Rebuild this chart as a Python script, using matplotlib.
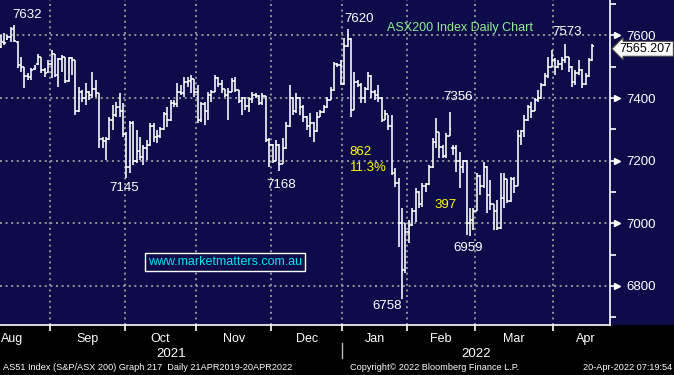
import matplotlib
matplotlib.use("Agg")
import matplotlib.pyplot as plt
from matplotlib.transforms import blended_transform_factory
from matplotlib.patches import Rectangle
import numpy as np

plt.rcParams['font.family'] = ['Liberation Sans', 'DejaVu Sans']

# ---------------- data ----------------
month_names = ['Aug', 'Sep', 'Oct', 'Nov', 'Dec', 'Jan', 'Feb', 'Mar', 'Apr']
month_sessions = [22, 22, 21, 22, 21, 19, 20, 23, 19]   # trading sessions per month
hidden_aug_sessions = 7                                   # Aug sessions before the chart starts
year_labels = ['2021', '2022']
y_ticks = [6800, 7000, 7200, 7400, 7600]
y_minor = [6700, 6900, 7100, 7300, 7500, 7700]

opens = [
    # Aug
    7562, 7580, 7588, 7596, 7622, 7580, 7505, 7498, 7470, 7466, 7492, 7508, 7530, 7488, 7482,
    # Sep
    7510, 7540, 7475, 7525, 7530, 7455, 7528, 7520, 7360, 7420, 7400, 7420, 7410, 7430, 7415,
    7270, 7262, 7270, 7330, 7345, 7370, 7360,
    # Oct
    7285, 7180, 7320, 7200, 7230, 7210, 7240, 7250, 7310, 7275, 7280, 7300, 7350, 7330, 7385,
    7380, 7420, 7415, 7450, 7455, 7460,
    # Nov
    7420, 7330, 7380, 7360, 7410, 7420, 7465, 7445, 7428, 7410, 7420, 7455, 7425, 7390, 7400,
    7375, 7398, 7410, 7405, 7385, 7405, 7265,
    # Dec
    7250, 7200, 7250, 7190, 7240, 7310, 7400, 7360, 7400, 7370, 7340, 7310, 7320, 7295, 7340,
    7355, 7370, 7395, 7425, 7510, 7505,
    # Jan
    7444, 7565, 7589, 7362, 7450, 7440, 7400, 7430, 7470, 7420, 7410, 7400, 7330, 7350, 7310,
    7160, 7130, 7000, 6850,
    # Feb
    6971, 6995, 7040, 7100, 7060, 7120, 7125, 7180, 7260, 7290, 7245, 7215, 7280, 7240, 7240,
    7200, 7180, 7200, 7000, 7010,
    # Mar
    7040, 7150, 7120, 7180, 7090, 7060, 7040, 6985, 7080, 7140, 7070, 7140, 7120, 7280, 7295,
    7330, 7370, 7360, 7395, 7400, 7440, 7470, 7500,
    # Apr
    7520, 7500, 7510, 7520, 7530, 7500, 7450, 7480, 7490, 7445, 7470, 7520,
]
highs = [
    7602, 7608, 7602, 7627, 7632, 7582, 7531, 7499, 7480, 7496, 7506, 7541, 7531, 7496, 7522,
    7554, 7541, 7528, 7538, 7531, 7531, 7531, 7521, 7436, 7426, 7448, 7422, 7483, 7458, 7416,
    7276, 7276, 7340, 7378, 7388, 7416, 7384,
    7290, 7327, 7327, 7298, 7276, 7250, 7266, 7320, 7320, 7298, 7308, 7356, 7372, 7394, 7394,
    7448, 7442, 7467, 7467, 7474, 7462,
    7442, 7388, 7388, 7420, 7426, 7474, 7467, 7458, 7430, 7432, 7464, 7467, 7426, 7404, 7402,
    7404, 7420, 7416, 7410, 7416, 7407, 7273,
    7252, 7266, 7252, 7273, 7324, 7442, 7404, 7416, 7402, 7378, 7342, 7352, 7322, 7356, 7362,
    7378, 7404, 7436, 7515, 7512, 7522,
    7592, 7620, 7591, 7483, 7458, 7448, 7436, 7483, 7474, 7426, 7442, 7404, 7362, 7346, 7346,
    7177, 7145, 7049, 7001,
    7011, 7049, 7113, 7102, 7129, 7129, 7186, 7273, 7336, 7292, 7250, 7289, 7356, 7250, 7250,
    7228, 7202, 7202, 7049, 7049,
    7161, 7154, 7196, 7182, 7138, 7062, 7075, 7161, 7161, 7142, 7148, 7148, 7298, 7298, 7346,
    7378, 7388, 7400, 7426, 7448, 7480, 7531, 7554,
    7528, 7522, 7531, 7573, 7532, 7502, 7490, 7522, 7492, 7480, 7528, 7571,
]
lows = [
    7560, 7570, 7586, 7579, 7579, 7496, 7483, 7432, 7458, 7458, 7490, 7506, 7480, 7467, 7480,
    7464, 7467, 7436, 7483, 7448, 7450, 7474, 7346, 7355, 7388, 7378, 7394, 7400, 7404, 7241,
    7241, 7202, 7266, 7298, 7340, 7340, 7276,
    7145, 7161, 7186, 7193, 7202, 7186, 7202, 7248, 7260, 7257, 7273, 7298, 7308, 7328, 7372,
    7372, 7410, 7404, 7436, 7416, 7404,
    7320, 7324, 7314, 7330, 7388, 7418, 7436, 7416, 7404, 7330, 7418, 7420, 7384, 7346, 7362,
    7356, 7384, 7400, 7378, 7378, 7260, 7180,
    7193, 7198, 7168, 7188, 7238, 7308, 7346, 7352, 7346, 7324, 7298, 7276, 7260, 7292, 7338,
    7353, 7368, 7393, 7423, 7498, 7440,
    7442, 7563, 7340, 7362, 7436, 7384, 7384, 7426, 7400, 7394, 7388, 7324, 7330, 7298, 7154,
    7116, 6924, 6758, 6842,
    6937, 6990, 7004, 7049, 7052, 7100, 7122, 7178, 7241, 7209, 7209, 7209, 7278, 7218, 7164,
    7113, 7161, 6963, 6959, 6979,
    7038, 7091, 7113, 7033, 7043, 6979, 6979, 6983, 7049, 7065, 7068, 7097, 7118, 7250, 7276,
    7328, 7336, 7358, 7388, 7398, 7438, 7464, 7498,
    7474, 7496, 7490, 7512, 7483, 7436, 7442, 7474, 7432, 7443, 7468, 7518,
]
closes = [
    7582, 7575, 7596, 7620, 7582, 7505, 7500, 7470, 7466, 7490, 7500, 7530, 7488, 7480, 7510,
    7540, 7475, 7525, 7530, 7455, 7528, 7520, 7360, 7420, 7400, 7420, 7410, 7430, 7415, 7270,
    7262, 7270, 7330, 7345, 7370, 7360, 7285,
    7180, 7320, 7200, 7230, 7210, 7240, 7250, 7310, 7275, 7280, 7300, 7350, 7330, 7385, 7380,
    7420, 7415, 7450, 7455, 7460, 7420,
    7330, 7380, 7360, 7410, 7420, 7465, 7445, 7428, 7410, 7420, 7455, 7425, 7390, 7400, 7375,
    7398, 7410, 7405, 7385, 7405, 7265, 7250,
    7200, 7250, 7190, 7240, 7310, 7400, 7360, 7400, 7370, 7340, 7310, 7320, 7295, 7340, 7355,
    7370, 7395, 7425, 7510, 7505, 7444,
    7565, 7589, 7362, 7450, 7440, 7400, 7430, 7470, 7420, 7410, 7400, 7330, 7350, 7310, 7160,
    7130, 7000, 6850, 6971,
    6990, 7040, 7100, 7060, 7120, 7125, 7180, 7260, 7290, 7245, 7215, 7280, 7300, 7240, 7200,
    7180, 7200, 7000, 7010, 7040,
    7150, 7120, 7180, 7090, 7060, 7040, 6985, 7080, 7140, 7070, 7140, 7120, 7280, 7295, 7330,
    7370, 7360, 7395, 7400, 7440, 7470, 7500, 7520,
    7500, 7510, 7520, 7530, 7500, 7450, 7480, 7490, 7445, 7470, 7520, 7565.207,
]
swing_highs = [4, 102, 132, 166]   # bars whose highs are labelled
swing_lows = [37, 82, 118, 138]    # bars whose lows are labelled

# ---------------- figure ----------------
NAVY = '#0e0b4b'
GRID = '#9c9c9c'
fig = plt.figure(figsize=(6.74, 3.75), dpi=100, facecolor=NAVY)
fig.patches.append(Rectangle((0, 0), 1, 50 / 375, transform=fig.transFigure,
                             fc='black', ec='none', zorder=-10))
ax = fig.add_axes([0, 50 / 375, 610 / 674, 325 / 375])
ax.set_facecolor(NAVY)

n = len(closes)
idx = np.arange(n)
o = np.array(opens); h = np.array(highs); l = np.array(lows); c = np.array(closes)

ax.set_xlim(-0.2, 179.2)
ax.set_ylim(6675, 7713)

starts = np.cumsum([0] + month_sessions) - hidden_aug_sessions
bounds = starts - 0.5
centers = (bounds[:-1] + bounds[1:]) / 2

# grid
for yv in y_ticks:
    ax.axhline(yv, color=GRID, lw=1.3, ls=(0, (1.1, 2.0)), zorder=1)
for bv in bounds[1:-1]:
    ax.axvline(bv, color=GRID, lw=1.3, ls=(0, (1.1, 2.0)), zorder=1)

# OHLC bars
ax.vlines(idx, l, h, color='white', lw=1.15, zorder=3)
ax.hlines(o, idx - 0.5, idx, color='white', lw=1.15, zorder=3)
ax.hlines(c, idx, idx + 0.5, color='white', lw=1.15, zorder=3)

# spines
for s in ['left', 'top']:
    ax.spines[s].set_visible(False)
for s in ['right', 'bottom']:
    ax.spines[s].set_color('white')
    ax.spines[s].set_linewidth(1.2)

# y axis on right
ax.yaxis.tick_right()
ax.set_yticks(y_ticks)
ax.set_yticks(y_minor, minor=True)
ax.set_yticklabels([str(v) for v in y_ticks])
ax.tick_params(axis='y', which='major', colors='white', length=5, width=1.2,
               labelsize=9.5, pad=7)
ax.tick_params(axis='y', which='minor', colors='white', length=4, width=1.2)
bt = blended_transform_factory(ax.transAxes, ax.transData)
ax.plot([1.011] * len(y_ticks), y_ticks, ls='none', marker='>', ms=4.5,
        color='white', transform=bt, clip_on=False, zorder=5)

# x axis
ax.set_xticks(bounds[1:-1])
ax.set_xticklabels([])
ax.tick_params(axis='x', which='major', colors='white', length=4, width=1.2, direction='out')
bx = blended_transform_factory(ax.transData, ax.transAxes)
for name, cx in zip(month_names, centers):
    ax.text(cx, -0.042, name, transform=bx, color='white', fontsize=9,
            ha='center', va='center', clip_on=False)
x0, x1 = ax.get_xlim()
jan_b = bounds[5]
ax.text((x0 + jan_b) / 2, -0.088, year_labels[0], transform=bx, color='white',
        fontsize=9.5, ha='center', va='center')
ax.text((jan_b + x1) / 2, -0.088, year_labels[1], transform=bx, color='white',
        fontsize=9.5, ha='center', va='center')
ax.plot([jan_b, jan_b], [-0.055, -0.102], transform=bx, color='#bbbbbb', lw=1,
        clip_on=False)

# last price box
ax.annotate(f"{c[-1]:.3f}", xy=(1.016, c[-1]), xycoords=bt, xytext=(0, -2.5),
            textcoords='offset pixels', color='black', fontsize=9,
            ha='left', va='center', annotation_clip=False,
            bbox=dict(boxstyle='larrow,pad=0.12', fc='white', ec='#444444', lw=0.8))

# labels for swing highs / lows
hi_off = {4: (13, 10), 102: (12, 10), 132: (9, 15), 166: (2, 12)}
lo_off = {37: (-2, -10), 82: (2, -14), 118: (-15, -7), 138: (-2, -12)}
for i in swing_highs:
    ax.annotate(f"{h[i]:.0f}", xy=(i, h[i]), xytext=hi_off[i], textcoords='offset pixels',
                color='white', fontsize=9.5, ha='center', va='center')
for i in swing_lows:
    ax.annotate(f"{l[i]:.0f}", xy=(i, l[i]), xytext=lo_off[i], textcoords='offset pixels',
                color='white', fontsize=9.5, ha='center', va='center')

# move annotations (yellow)
drop = h[swing_highs[1]] - l[swing_lows[2]]
bounce = h[swing_highs[2]] - l[swing_lows[3]]
ax.text(102.6, 7228, f"{drop:.0f}", color='#ffff00', fontsize=9.5, ha='left', va='center')
ax.text(102.6, 7177, f"{drop / h[swing_highs[1]] * 100:.1f}%", color='#ffff00',
        fontsize=9.5, ha='left', va='center')
ax.text(130.7, 7059, f"{bounce:.0f}", color='#ffff00', fontsize=9.5, ha='center', va='center')

# title and site box
ax.text(0.754, 0.914, 'ASX200 Index Daily Chart', transform=ax.transAxes,
        color='#8fee8f', fontsize=9, ha='center', va='center')
ax.text(0.369, 0.194, 'www.marketmatters.com.au', transform=ax.transAxes,
        color='#00e6f0', fontsize=9, ha='center', va='center',
        bbox=dict(boxstyle='square,pad=0.25', fc=NAVY, ec='white', lw=1.0))

# footer
fig.text(0.0045, 0.021, 'AS51 Index (S&P/ASX 200) Graph 217  Daily 21APR2019-20APR2022',
         color='white', fontsize=6.6, ha='left', va='center')
fig.text(0.519, 0.021, 'Copyright\u00a9 2022 Bloomberg Finance L.P.',
         color='white', fontsize=6.6, ha='left', va='center')
fig.text(0.997, 0.021, '20-Apr-2022 07:19:54',
         color='white', fontsize=6.6, ha='right', va='center')

fig.savefig('out.png', dpi=100, facecolor=NAVY)
